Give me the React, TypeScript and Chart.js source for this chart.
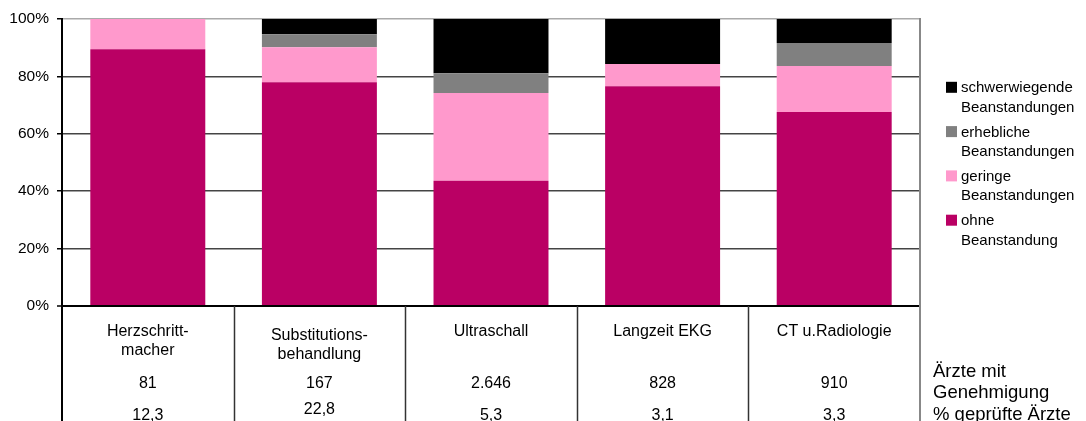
import React, { useEffect, useRef } from "react";
import { Chart, registerables } from "chart.js";

Chart.register(...registerables);

// ---- data ----
const categories = ["Herzschrittmacher", "Substitutionsbehandlung", "Ultraschall", "Langzeit EKG", "CT u.Radiologie"];
const categoryLines = [["Herzschritt-", "macher"], ["Substitutions-", "behandlung"], ["Ultraschall"], ["Langzeit EKG"], ["CT u.Radiologie"]];
const ohneBeanstandung = [89.5, 78.0, 43.6, 76.6, 67.6];
const geringeBeanstandungen = [10.5, 12.2, 30.6, 7.7, 16.0];
const erheblicheBeanstandungen = [0, 4.5, 6.9, 0, 8.0];
const schwerwiegendeBeanstandungen = [0, 5.3, 18.9, 15.7, 8.4];
const aerzteMitGenehmigung = ["81", "167", "2.646", "828", "910"];
const geprueftProzent = ["12,3", "22,8", "5,3", "3,1", "3,3"];
const rowLabels = ["Ärzte mit", "Genehmigung", "% geprüfte Ärzte"];
const seriesNames = [
  ["ohne", "Beanstandung"],
  ["geringe", "Beanstandungen"],
  ["erhebliche", "Beanstandungen"],
  ["schwerwiegende", "Beanstandungen"],
];
const yTicks = [0, 20, 40, 60, 80, 100];

const COLORS = ["#BA0064", "#FF99CC", "#808080", "#000000"];
const FONT = '"Liberation Sans", Arial, sans-serif';

// small per-column vertical adjustments of table text (layout only)
const labelShift = [0, 4, 0, 0, 0];
const row2Shift = [0, -6, 0, 0, 0];

const tablePlugin = {
  id: "tablePlugin",
  afterDraw(chart: any) {
    const ctx = chart.ctx as CanvasRenderingContext2D;
    const xs = chart.scales.x;
    const area = chart.chartArea;
    const H = chart.height;
    ctx.save();

    // inner column separators
    ctx.strokeStyle = "#333333";
    ctx.lineWidth = 1.5;
    for (let i = 0; i < categories.length - 1; i++) {
      const b = (xs.getPixelForValue(i) + xs.getPixelForValue(i + 1)) / 2;
      ctx.beginPath();
      ctx.moveTo(Math.round(b) + 0.5, area.bottom);
      ctx.lineTo(Math.round(b) + 0.5, H);
      ctx.stroke();
    }
    // left extension of axis
    ctx.strokeStyle = "#000000";
    ctx.lineWidth = 2;
    ctx.beginPath();
    ctx.moveTo(area.left, area.bottom);
    ctx.lineTo(area.left, H);
    ctx.stroke();
    // right border
    ctx.strokeStyle = "#888888";
    ctx.lineWidth = 2;
    ctx.beginPath();
    ctx.moveTo(area.right, area.top - 1);
    ctx.lineTo(area.right, H);
    ctx.stroke();

    // table text
    ctx.fillStyle = "#000000";
    ctx.textAlign = "center";
    ctx.textBaseline = "alphabetic";
    ctx.font = `16px ${FONT}`;
    for (let i = 0; i < categories.length; i++) {
      const cx = xs.getPixelForValue(i);
      const lines = categoryLines[i];
      lines.forEach((ln, k) => {
        ctx.fillText(ln, cx, area.bottom + 30 + labelShift[i] + k * 19);
      });
      ctx.fillText(aerzteMitGenehmigung[i], cx, area.bottom + 82);
      ctx.fillText(geprueftProzent[i], cx, area.bottom + 114 + row2Shift[i]);
    }

    // row labels on the right
    ctx.textAlign = "left";
    ctx.font = `18.5px ${FONT}`;
    const rx = area.right + 13;
    ctx.fillText(rowLabels[0], rx, area.bottom + 70.5);
    ctx.fillText(rowLabels[1], rx, area.bottom + 92);
    ctx.fillText(rowLabels[2], rx, area.bottom + 114);

    // legend (top-most series first)
    ctx.font = `15px ${FONT}`;
    const lx = area.right + 26;
    const order = [3, 2, 1, 0];
    order.forEach((s, k) => {
      const base = 92.3 + k * 44.3;
      ctx.fillStyle = COLORS[s];
      ctx.fillRect(lx, base - 10.5, 11, 11);
      ctx.fillStyle = "#000000";
      seriesNames[s].forEach((ln, j) => {
        ctx.fillText(ln, lx + 15, base + j * 19.5);
      });
    });

    ctx.restore();
  },
};

export default function App() {
  const ref = useRef<HTMLCanvasElement | null>(null);
  useEffect(() => {
    if (!ref.current) return;
    const seriesData = [ohneBeanstandung, geringeBeanstandungen, erheblicheBeanstandungen, schwerwiegendeBeanstandungen];
    const chart = new Chart(ref.current, {
      type: "bar",
      data: {
        labels: categories,
        datasets: seriesData.map((d, i) => ({
          label: seriesNames[i].join(" "),
          data: d,
          backgroundColor: COLORS[i],
          borderWidth: 0,
          barPercentage: 0.67,
          categoryPercentage: 1,
        })),
      },
      options: {
        responsive: false,
        animation: false,
        layout: { padding: { left: 0, top: 19, right: 166, bottom: 115 } },
        plugins: { legend: { display: false }, tooltip: { enabled: false } },
        scales: {
          x: { stacked: true, display: false },
          y: {
            stacked: true,
            min: 0,
            max: 100,
            afterFit(scale: any) {
              scale.width = 62;
            },
            afterBuildTicks(scale: any) {
              scale.ticks = yTicks.map((v) => ({ value: v }));
            },
            ticks: {
              stepSize: 20,
              padding: 8,
              color: "#000000",
              font: { family: FONT, size: 15.5 },
              callback: (v: any) => `${v}%`,
            },
            grid: {
              color: (c: any) => (c.tick && c.tick.value === 100 ? "#aaaaaa" : c.tick && c.tick.value === 0 ? "#000000" : "#444444"),
              lineWidth: (c: any) => (c.tick && c.tick.value === 0 ? 2 : 1.5),
              tickLength: 5,
              tickColor: "#000000",
              tickWidth: 1.5,
            },
            border: { color: "#000000", width: 2 },
          },
        },
      },
      plugins: [tablePlugin],
    });
    return () => chart.destroy();
  }, []);
  return (
    <div style={{ position: "absolute", left: 0, top: 0, width: 1086, height: 421, background: "#ffffff" }}>
      <canvas ref={ref} width={1086} height={421} style={{ display: "block" }} />
    </div>
  );
}
